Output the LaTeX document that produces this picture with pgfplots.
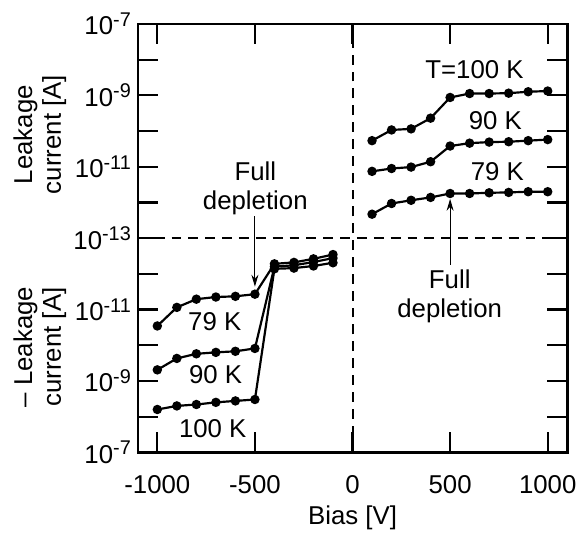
\documentclass[border=0pt]{standalone}
\usepackage{fontspec}
\setmainfont{Liberation Sans}
\usepackage{pgfplots}
\pgfplotsset{compat=1.18}
\usetikzlibrary{arrows.meta}

\newcommand\ee[1]{10\raisebox{0.62ex}{\fontsize{10}{10}\selectfont #1}}

% y axis: u = log10(I)+13 above the dashed line, -(log10|I|+13) below it
\pgfplotstableread{
x     u
100   2.73
200   3.03
300   3.06
400   3.36
500   3.94
600   4.05
700   4.05
800   4.06
900   4.10
1000  4.12
}\posA
\pgfplotstableread{
x     u
100   1.87
200   1.95
300   1.99
400   2.14
500   2.58
600   2.66
700   2.69
800   2.70
900   2.73
1000  2.76
}\posB
\pgfplotstableread{
x     u
100   0.67
200   0.97
300   1.06
400   1.14
500   1.25
600   1.25
700   1.27
800   1.28
900   1.30
1000  1.30
}\posC
\pgfplotstableread{
x      u
-1000  -4.80
-900   -4.70
-800   -4.66
-700   -4.60
-600   -4.56
-500   -4.52
-400   -0.86
-300   -0.84
-200   -0.78
-100   -0.69
}\negA
\pgfplotstableread{
x      u
-1000  -3.69
-900   -3.37
-800   -3.24
-700   -3.20
-600   -3.17
-500   -3.09
-400   -0.80
-300   -0.76
-200   -0.67
-100   -0.56
}\negB
\pgfplotstableread{
x      u
-1000  -2.46
-900   -1.94
-800   -1.71
-700   -1.65
-600   -1.63
-500   -1.57
-400   -0.72
-300   -0.68
-200   -0.58
-100   -0.46
}\negC

\begin{document}
\begin{tikzpicture}
\begin{axis}[
    scale only axis,
    width=216.5pt, height=216pt,
    xmin=-1100, xmax=1100,
    ymin=-6, ymax=6,
    clip=false,
    axis line style={line width=1.3pt},
    tick align=inside,
    tick pos=both,
    major tick length=10pt,
    major tick style={line width=1.1pt, black},
    xtick={-1000,-500,0,500,1000},
    xticklabels={-1000,-500,0,500,1000},
    ytick={-6,-5,...,6},
    yticklabels={\ee{-7},,\ee{-9},,\ee{-11},,\ee{-13},,\ee{-11},,\ee{-9},,\ee{-7}},
    ticklabel style={font=\fontsize{13}{15}\selectfont},
    xticklabel style={yshift=-8pt},
    curve/.style={line width=1.1pt, black, solid, mark=*, mark size=1.8pt, mark options={solid, fill=black}},
]
\path (axis cs:-1806,6.67) rectangle (axis cs:1168,-8.19);
\draw[dash pattern=on 5pt off 3.5pt, line width=1pt] (axis cs:-1100,0) -- (axis cs:1100,0);
\draw[dash pattern=on 5pt off 3.5pt, line width=1pt] (axis cs:0,-6) -- (axis cs:0,6);

\addplot[curve] table[x=x,y=u] {\posA};
\addplot[curve] table[x=x,y=u] {\posB};
\addplot[curve] table[x=x,y=u] {\posC};
\addplot[curve] table[x=x,y=u] {\negA};
\addplot[curve] table[x=x,y=u] {\negB};
\addplot[curve] table[x=x,y=u] {\negC};

\begin{scope}[font=\fontsize{13}{14.5}\selectfont]
\node at (axis cs:625,4.72) {T=100 K};
\node at (axis cs:732,3.30) {90 K};
\node at (axis cs:742,1.86) {79 K};
\node at (axis cs:-706,-2.33) {79 K};
\node at (axis cs:-701,-3.81) {90 K};
\node at (axis cs:-716,-5.33) {100 K};
\node[align=center] at (axis cs:-498,1.40) {Full\\depletion};
\node[align=center] at (axis cs:498,-1.62) {Full\\depletion};
\node[align=center, rotate=90] at (axis cs:-1602,2.9) {Leakage\\current [A]};
\node[align=center, rotate=90] at (axis cs:-1602,-3.05) {-- Leakage\\current [A]};
\node at (axis cs:0,-7.84) {Bias [V]};
\end{scope}
\draw[-{Stealth[length=6pt,width=3.5pt]}, line width=0.5pt] (axis cs:-500,0.61) -- (axis cs:-500,-1.36);
\draw[-{Stealth[length=6pt,width=3.5pt]}, line width=0.5pt] (axis cs:500,-0.74) -- (axis cs:500,1.10);
\end{axis}
\end{tikzpicture}
\end{document}
